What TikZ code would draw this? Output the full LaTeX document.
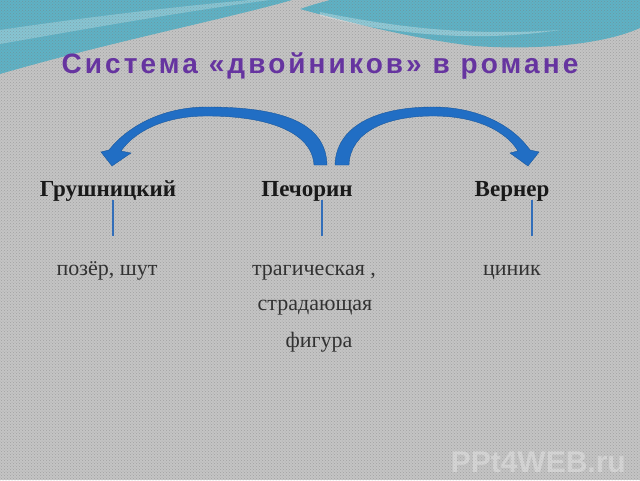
\documentclass[tikz,border=0pt]{standalone}
\usepackage{fontspec}
\setmainfont{Liberation Serif}
\newfontfamily\titlefont[LetterSpace=11.0]{Liberation Sans}
\newfontfamily\wmfont{Liberation Sans}
\usetikzlibrary{patterns}
\definecolor{bggray}{RGB}{196,196,196}
\definecolor{dotgray}{RGB}{120,120,120}
\definecolor{tealband}{RGB}{78,176,198}
\definecolor{arrowblue}{RGB}{33,110,196}
\definecolor{lineblue}{RGB}{50,110,185}
\definecolor{titlepurple}{RGB}{102,52,160}
\definecolor{descgray}{RGB}{50,50,50}
\tikzset{
  namelabel/.style={font=\fontsize{23}{27}\selectfont\bfseries, text=black!90, anchor=base, inner sep=0pt},
  desc/.style={font=\fontsize{22}{26}\selectfont, text=descgray, anchor=base, inner sep=0pt},
  stem/.style={draw=lineblue, line width=2.4pt},
  bigarrow/.style={fill=arrowblue, draw=arrowblue!80!black, line width=0.4pt},
}
\begin{document}
\begin{tikzpicture}[x=1pt,y=-1pt]
\useasboundingbox (0,0) rectangle (640,480);
% background
\fill[bggray] (0,0) rectangle (640,480);
% decorative teal waves
\fill[tealband, opacity=0.85] (0,0) -- (292,0) .. controls (230,18) and (110,42) .. (0,74) -- cycle;
\fill[white, opacity=0.25] (0,30) .. controls (80,18) and (180,6) .. (250,0) -- (270,0) .. controls (180,12) and (80,30) .. (0,44) -- cycle;
\fill[tealband, opacity=0.85] (330,0) -- (640,0) -- (640,28) .. controls (600,46) and (530,50) .. (475,46) .. controls (420,40) and (355,24) .. (300,9) .. controls (312,5) .. (330,0) -- cycle;
\fill[white, opacity=0.3] (320,12) .. controls (400,28) and (470,36) .. (560,30) .. controls (480,42) and (400,36) .. (320,16) -- cycle;
% texture
\fill[pattern=crosshatch dots, pattern color=dotgray, opacity=0.45] (0,0) rectangle (640,480);
% title
\node[font=\titlefont\fontsize{28}{32}\selectfont\bfseries, text=titlepurple, anchor=base, inner sep=0pt] (title) at (320,73) {Система «двойников» в романе};
% names
\node[namelabel] (grush) at (108,196) {Грушницкий};
\node[namelabel] (pech) at (307,196) {Печорин};
\node[namelabel] (vern) at (512,196) {Вернер};
% stems
\coordinate (g1) at (113,200); \coordinate (g2) at (113,236);
\coordinate (p1) at (322,200); \coordinate (p2) at (322,236);
\coordinate (v1) at (532,200); \coordinate (v2) at (532,236);
\draw[stem] (g1) -- (g2);
\draw[stem] (p1) -- (p2);
\draw[stem] (v1) -- (v2);
% descriptions
\node[desc] (gdesc) at (107,275) {позёр, шут};
\node[desc] (pdesc1) at (314,275) {трагическая ,};
\node[desc] (pdesc2) at (315,310) {страдающая};
\node[desc] (pdesc3) at (319,347) {фигура};
\node[desc] (vdesc) at (512,275) {циник};
% curved arrows
\path[bigarrow] (327,165) .. controls (326,122) and (280,107) .. (207,107)
  .. controls (162,107) and (127,127) .. (109,150)
  -- (101,152) -- (112,166) -- (131,153) -- (121,151)
  .. controls (136,130) and (166,116) .. (207,116)
  .. controls (268,116) and (312,132) .. (314,165) -- cycle;
\path[bigarrow] (335,165) .. controls (336,127) and (375,107) .. (433,107)
  .. controls (480,107) and (514,127) .. (530,150)
  -- (539,152) -- (528,166) -- (510,153) -- (518,151)
  .. controls (505,130) and (475,116) .. (433,116)
  .. controls (386,116) and (350,132) .. (349,165) -- cycle;
% watermark
\node[font=\wmfont\fontsize{30}{34}\selectfont\bfseries, text=white, opacity=0.3, anchor=base east, inner sep=0pt] (wm) at (626,472) {PPt4WEB.ru};
\end{tikzpicture}
\end{document}
